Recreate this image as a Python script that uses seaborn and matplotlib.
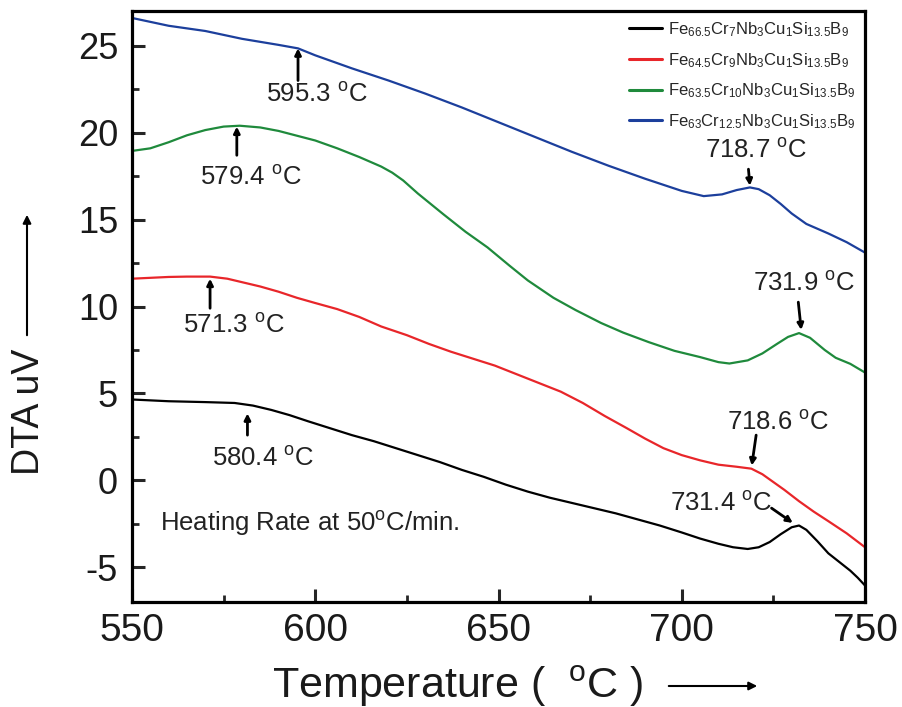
import numpy as np
import pandas as pd
import matplotlib
matplotlib.use("Agg")
import matplotlib.pyplot as plt
import seaborn as sns

# ---------------- data ----------------
labels = [
    r"Fe$_{66.5}$Cr$_{7}$Nb$_{3}$Cu$_{1}$Si$_{13.5}$B$_{9}$",
    r"Fe$_{64.5}$Cr$_{9}$Nb$_{3}$Cu$_{1}$Si$_{13.5}$B$_{9}$",
    r"Fe$_{63.5}$Cr$_{10}$Nb$_{3}$Cu$_{1}$Si$_{13.5}$B$_{9}$",
    r"Fe$_{63}$Cr$_{12.5}$Nb$_{3}$Cu$_{1}$Si$_{13.5}$B$_{9}$",
]
colors = ["#000000", "#e8262a", "#1f8a3c", "#1c3f9c"]

t_black = [550, 560, 570, 578, 583, 588, 593, 598, 604, 610, 616, 622, 628, 634, 640, 646, 652,
           658, 664, 670, 676, 682, 688, 694, 700, 705, 710, 714, 718, 721, 724, 727, 730, 732,
           734, 737, 740, 743, 746, 748, 750]
v_black = [4.65, 4.55, 4.5, 4.45, 4.3, 4.05, 3.75, 3.4, 3.0, 2.6, 2.25, 1.85, 1.45, 1.05, 0.6, 0.2,
           -0.25, -0.65, -1.0, -1.3, -1.6, -1.9, -2.25, -2.6, -3.0, -3.35, -3.65, -3.85, -3.95,
           -3.85, -3.55, -3.1, -2.7, -2.6, -2.85, -3.5, -4.2, -4.7, -5.2, -5.6, -6.05]

t_red = [550, 555, 560, 565, 571.3, 576, 580, 585, 590, 595, 600, 606, 612, 618, 625, 631, 637,
         643, 649, 655, 661, 667, 673, 679, 685, 690, 695, 700, 705, 710, 715, 719, 722, 725,
         728, 732, 736, 740, 745, 750]
v_red = [11.6, 11.65, 11.7, 11.72, 11.72, 11.6, 11.4, 11.15, 10.85, 10.5, 10.2, 9.85, 9.4, 8.85,
         8.35, 7.85, 7.4, 7.0, 6.6, 6.1, 5.6, 5.1, 4.45, 3.7, 3.0, 2.4, 1.85, 1.45, 1.15, 0.9,
         0.78, 0.67, 0.35, -0.1, -0.55, -1.2, -1.8, -2.35, -3.05, -3.85]

t_green = [550, 555, 560, 565, 570, 575, 579.4, 585, 590, 600, 606, 612, 618, 621, 624, 628, 635,
           641, 647, 653, 658, 665, 671, 678, 684, 691, 698, 705, 710, 713, 718, 722, 726, 729,
           732, 735, 739, 742, 746, 750]
v_green = [18.95, 19.1, 19.45, 19.85, 20.15, 20.35, 20.4, 20.3, 20.1, 19.55, 19.1, 18.6, 18.05,
           17.7, 17.25, 16.5, 15.3, 14.3, 13.4, 12.35, 11.5, 10.5, 9.8, 9.05, 8.5, 7.95, 7.45,
           7.09, 6.8, 6.72, 6.9, 7.3, 7.85, 8.25, 8.47, 8.2, 7.5, 7.05, 6.7, 6.2]

t_blue = [550, 560, 570, 580, 590, 595.3, 600, 610, 620, 630, 640, 650, 660, 670, 680, 690, 700,
          706, 711, 715, 718.6, 721, 724, 727, 730, 734, 740, 745, 750]
v_blue = [26.6, 26.15, 25.85, 25.4, 25.05, 24.85, 24.45, 23.7, 23.0, 22.25, 21.45, 20.6, 19.75,
          18.9, 18.1, 17.35, 16.65, 16.35, 16.45, 16.7, 16.85, 16.75, 16.4, 15.9, 15.35, 14.75,
          14.2, 13.7, 13.1]

series_t = [t_black, t_red, t_green, t_blue]
series_v = [v_black, v_red, v_green, v_blue]

# annotations: text, text position (left, center), arrow tail, arrow tip
ann_text = ["595.3", "579.4", "571.3", "580.4", "718.7", "731.9", "718.6", "731.4"]
ann_text_xy = [(586.6, 22.2), (568.6, 17.4), (564.0, 8.9), (571.7, 1.25),
               (706.3, 18.95), (719.4, 11.3), (712.3, 3.3), (696.8, -1.35)]
ann_tail = [(595.3, 23.0), (578.6, 18.7), (571.3, 9.9), (581.5, 2.6),
            (718.2, 17.9), (731.8, 10.25), (720.3, 2.6), (724.5, -1.6)]
ann_tip = [(595.3, 24.85), (578.6, 20.35), (571.3, 11.6), (581.5, 3.85),
           (718.6, 16.95), (732.6, 8.65), (719.1, 0.85), (730.3, -2.45)]

x_ticks = [550, 600, 650, 700, 750]
y_ticks = [-5, 0, 5, 10, 15, 20, 25]

# ---------------- plotting ----------------
sns.set_style("ticks")
plt.rcParams["font.family"] = ["Liberation Sans", "DejaVu Sans"]
plt.rcParams["mathtext.default"] = "regular"

rows = []
for lab, ts, vs in zip(labels, series_t, series_v):
    for t, v in zip(ts, vs):
        rows.append((t, v, lab))
df = pd.DataFrame(rows, columns=["T", "V", "alloy"])

fig = plt.figure(figsize=(9.02, 7.07), dpi=100)
ax = fig.add_axes([132 / 902, 1 - 602 / 707, (865 - 132) / 902, (602 - 11) / 707])

sns.lineplot(data=df, x="T", y="V", hue="alloy", hue_order=labels,
             palette=dict(zip(labels, colors)), estimator=None, sort=False,
             lw=1.6, ax=ax)

ax.set_xlim(550, 750)
ax.set_ylim(-7, 27)
ax.set_xticks(x_ticks)
ax.set_yticks(y_ticks)
ax.set_xticks(np.arange(575, 750, 50), minor=True)
ax.set_yticks(np.arange(-2.5, 27, 5), minor=True)
ax.set_xticklabels([str(v) for v in x_ticks])
ax.set_yticklabels([str(v) for v in y_ticks])

for s in ax.spines.values():
    s.set_linewidth(2.3)
    s.set_color("black")

ax.tick_params(axis="both", which="major", direction="in", length=9.5, width=2.2,
               top=False, right=False)
ax.tick_params(axis="both", which="minor", direction="in", length=5, width=2.0,
               top=False, right=False)
ax.tick_params(axis="y", which="major", labelsize=26, pad=10, labelcolor="#1a1a1a")
ax.tick_params(axis="x", which="major", labelsize=28, pad=8, labelcolor="#1a1a1a")

ax.set_xlabel("")
ax.set_ylabel("")

# axis labels with arrows
fig.text(272 / 902, 1 - 686 / 707, r"Temperature (  $^{o}$C )", fontsize=31,
         ha="left", va="center", color="#1a1a1a")
fig.text(29 / 902, 1 - 412 / 707, "DTA uV", fontsize=27, rotation=90,
         ha="center", va="center", color="#1a1a1a")
ax.annotate("", xy=(760 / 902, 1 - 686 / 707), xytext=(666 / 902, 1 - 686 / 707),
            xycoords="figure fraction", textcoords="figure fraction",
            arrowprops=dict(arrowstyle="-|>", lw=1.5, color="black", mutation_scale=12))
ax.annotate("", xy=(27 / 902, 1 - 212 / 707), xytext=(27 / 902, 1 - 338 / 707),
            xycoords="figure fraction", textcoords="figure fraction",
            arrowprops=dict(arrowstyle="-|>", lw=1.5, color="black", mutation_scale=12))

# peak annotations
for txt, txy, tail, tip in zip(ann_text, ann_text_xy, ann_tail, ann_tip):
    ax.text(txy[0], txy[1], txt + r" $^{o}$C", fontsize=18.5, ha="left", va="center",
            color="#222222")
    ax.annotate("", xy=tip, xytext=tail,
                arrowprops=dict(arrowstyle="-|>", lw=2.0, color="black",
                                mutation_scale=9, shrinkA=0, shrinkB=0))

ax.text(557.6, -2.5, r"Heating Rate at 50$^{o}$C/min.", fontsize=18.5, ha="left",
        va="center", color="#222222")

leg = ax.legend(loc="upper right", bbox_to_anchor=(1.0, 1.0), frameon=False,
                fontsize=12, handlelength=2.0, handletextpad=0.35,
                labelspacing=0.72, borderaxespad=0.2, borderpad=0.35)
for h in leg.get_lines():
    h.set_linewidth(2.2)

fig.savefig("out.png", dpi=100)
